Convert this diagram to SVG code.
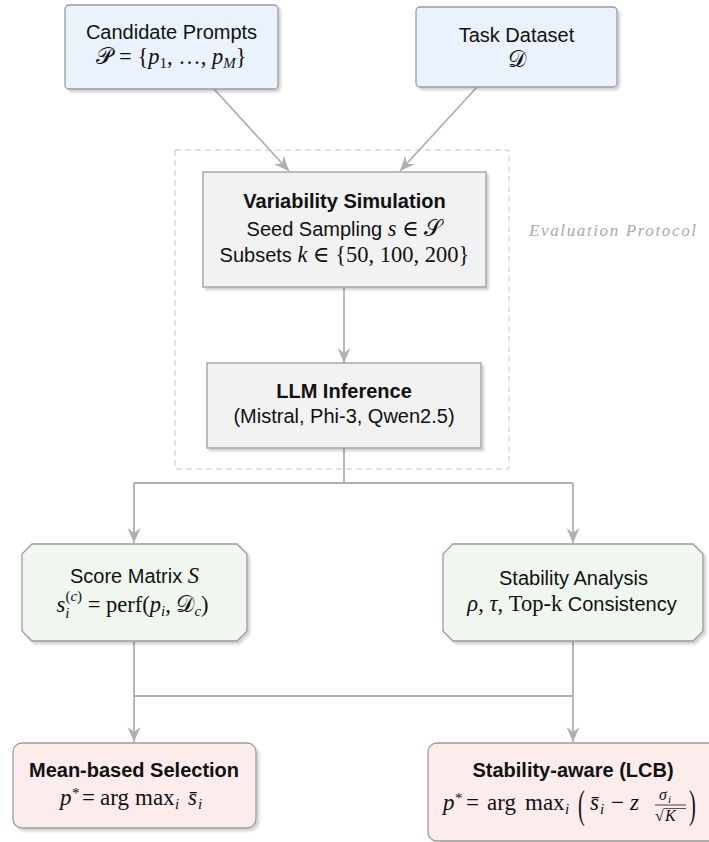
<svg xmlns="http://www.w3.org/2000/svg" width="709" height="842" viewBox="0 0 709 842">
<style>
.s{font-family:"Liberation Sans",Arial,sans-serif;font-size:20px;fill:#111;text-anchor:middle}
.b{font-weight:bold}
.m{font-family:"Liberation Serif","Times New Roman","DejaVu Serif",serif;font-size:22.5px}
.i{font-style:italic}
.sub{font-size:15px}
.blue{fill:#eaf3fd;stroke:#9c9c9c;stroke-width:1.3}
.gray{fill:#f2f2f2;stroke:#9c9c9c;stroke-width:1.3}
.green{fill:#eff7ef;stroke:#9c9c9c;stroke-width:1.3}
.pink{fill:#fdecec;stroke:#9c9c9c;stroke-width:1.3}
.c{fill:none;stroke:#b0b0b0;stroke-width:1.8}
.a{marker-end:url(#ah)}
.f{font-family:"Liberation Serif","Times New Roman",serif;font-size:23px;fill:#111}
.f.s15{font-size:15px}
.f.s16{font-size:16px}
.f.s11{font-size:11px}
.f.big{font-size:34px}
</style>
<defs>
<filter id="sh" x="-10%" y="-10%" width="130%" height="140%">
<feDropShadow dx="2.5" dy="2.5" stdDeviation="1.2" flood-color="#000" flood-opacity="0.18"/>
</filter>
<marker id="ah" markerUnits="userSpaceOnUse" markerWidth="16" markerHeight="14" viewBox="0 0 16 14" refX="15" refY="6.5" orient="auto">
<path d="M0,0 L15,6.5 L0,13 L5,6.5 Z" fill="#b0b0b0"/>
</marker>
</defs>
<rect width="709" height="842" fill="#fff"/>

<g id="evaluation-protocol">
<rect x="175" y="150" width="334" height="319" fill="none" stroke="#c8c8c8" stroke-width="1" stroke-dasharray="6,4"/>
<text x="529" y="236" font-family="Liberation Serif,serif" font-style="italic" font-size="17" fill="#aaa" textLength="167" lengthAdjust="spacing">Evaluation Protocol</text>
</g>

<g id="connectors">
<path class="c a" d="M214,89 L289,171"/>
<path class="c a" d="M477,87 L400,171"/>
<path class="c a" d="M344,287 L344,363"/>
<path class="c" d="M344,448 L344,483 M134,483 L573,483"/>
<path class="c a" d="M134,483 L134,543"/>
<path class="c a" d="M573,483 L573,543"/>
<path class="c" d="M134,641 L134,696 M573,641 L573,696 M134,696 L573,696"/>
<path class="c a" d="M134,696 L134,742"/>
<path class="c a" d="M573,696 L573,742"/>
</g>

<g id="candidate-prompts">
<rect class="blue" x="65" y="5" width="213" height="84" rx="4" filter="url(#sh)"/>
<text class="s" x="171.5" y="39">Candidate Prompts</text>
<text class="s m" x="171.5" y="64">𝒫 = {<tspan class="i">p</tspan><tspan class="sub" dy="4">1</tspan><tspan dy="-4">, …, </tspan><tspan class="i">p</tspan><tspan class="sub i" dy="4">M</tspan><tspan dy="-4">}</tspan></text>
</g>

<g id="task-dataset">
<rect class="blue" x="416" y="7" width="201" height="80" rx="4" filter="url(#sh)"/>
<text class="s" x="516.5" y="42">Task Dataset</text>
<text class="s m" x="516.5" y="67">𝒟</text>
</g>

<g id="variability-simulation">
<rect class="gray" x="203" y="172" width="283" height="115" filter="url(#sh)"/>
<text class="s b" x="344.5" y="208">Variability Simulation</text>
<text class="s" x="344.5" y="236">Seed Sampling <tspan class="m i">s</tspan><tspan class="m"> ∈ 𝒮</tspan></text>
<text class="s" x="344.5" y="262">Subsets <tspan class="m i">k</tspan><tspan class="m"> ∈ {50, 100, 200}</tspan></text>
</g>

<g id="llm-inference">
<rect class="gray" x="207" y="363" width="274" height="85" filter="url(#sh)"/>
<text class="s b" x="344" y="398">LLM Inference</text>
<text class="s" x="344" y="423">(Mistral, Phi-3, Qwen2.5)</text>
</g>

<g id="score-matrix">
<polygon class="green" points="32,544 237,544 247,554 247,631 237,641 32,641 22,631 22,554" filter="url(#sh)"/>
<text class="s" x="134.5" y="583">Score Matrix <tspan class="m i">S</tspan></text>
<text class="s m" x="132.5" y="612"><tspan class="i">s</tspan><tspan class="sub i" dy="6">i</tspan><tspan class="sub" dx="-4" dy="-17">(<tspan class="i">c</tspan>)</tspan><tspan dy="11"> = perf(</tspan><tspan class="i">p</tspan><tspan class="sub i" dy="4">i</tspan><tspan dy="-4">, 𝒟</tspan><tspan class="sub i" dy="4">c</tspan><tspan dy="-4">)</tspan></text>
</g>

<g id="stability-analysis">
<polygon class="green" points="453,544 693,544 703,554 703,631 693,641 453,641 443,631 443,554" filter="url(#sh)"/>
<text class="s" x="573.5" y="585">Stability Analysis</text>
<text class="s" x="572" y="611"><tspan class="m i">ρ</tspan><tspan class="m">, </tspan><tspan class="m i">τ</tspan><tspan class="m">, Top-k</tspan> Consistency</text>
</g>

<g id="mean-based-selection">
<rect class="pink" x="13" y="743" width="243" height="85" rx="9" filter="url(#sh)"/>
<text class="s b" x="134" y="777">Mean-based Selection</text>
<text class="f i" x="60" y="805">p</text>
<text class="f s15" x="72" y="798">*</text>
<text class="f" x="82" y="805">=</text>
<text class="f" x="100" y="805">arg</text>
<text class="f" x="135" y="805">max</text>
<text class="f s15 i" x="175" y="809">i</text>
<text class="f i" x="188" y="805">s̄</text>
<text class="f s15 i" x="198" y="809">i</text>
</g>

<g id="stability-aware-lcb">
<rect class="pink" x="428" y="743" width="290" height="98" rx="9" filter="url(#sh)"/>
<text class="s b" x="573" y="777">Stability-aware (LCB)</text>
<text class="f i" x="443" y="810">p</text>
<text class="f s15" x="455" y="803">*</text>
<text class="f" x="466" y="810">=</text>
<text class="f" x="487" y="810">arg</text>
<text class="f" x="525" y="810">max</text>
<text class="f s15 i" x="565" y="814">i</text>
<text class="f big" transform="translate(578,818) scale(0.6,1.2)">(</text>
<text class="f i" x="590" y="810">s̄</text>
<text class="f s15 i" x="600" y="814">i</text>
<text class="f" x="611" y="810">−</text>
<text class="f i" x="630" y="810">z</text>
<text class="f s16 i" x="659" y="800">σ</text>
<text class="f s11 i" x="668" y="803">i</text>
<line x1="655" y1="805" x2="686" y2="805" stroke="#111" stroke-width="0.8"/>
<text class="f s16" x="655" y="821">√</text>
<line x1="664" y1="808.5" x2="686" y2="808.5" stroke="#111" stroke-width="0.7"/>
<text class="f s16 i" x="665" y="821">K</text>
<text class="f big" transform="translate(689,818) scale(0.6,1.2)">)</text>
</g>
</svg>
